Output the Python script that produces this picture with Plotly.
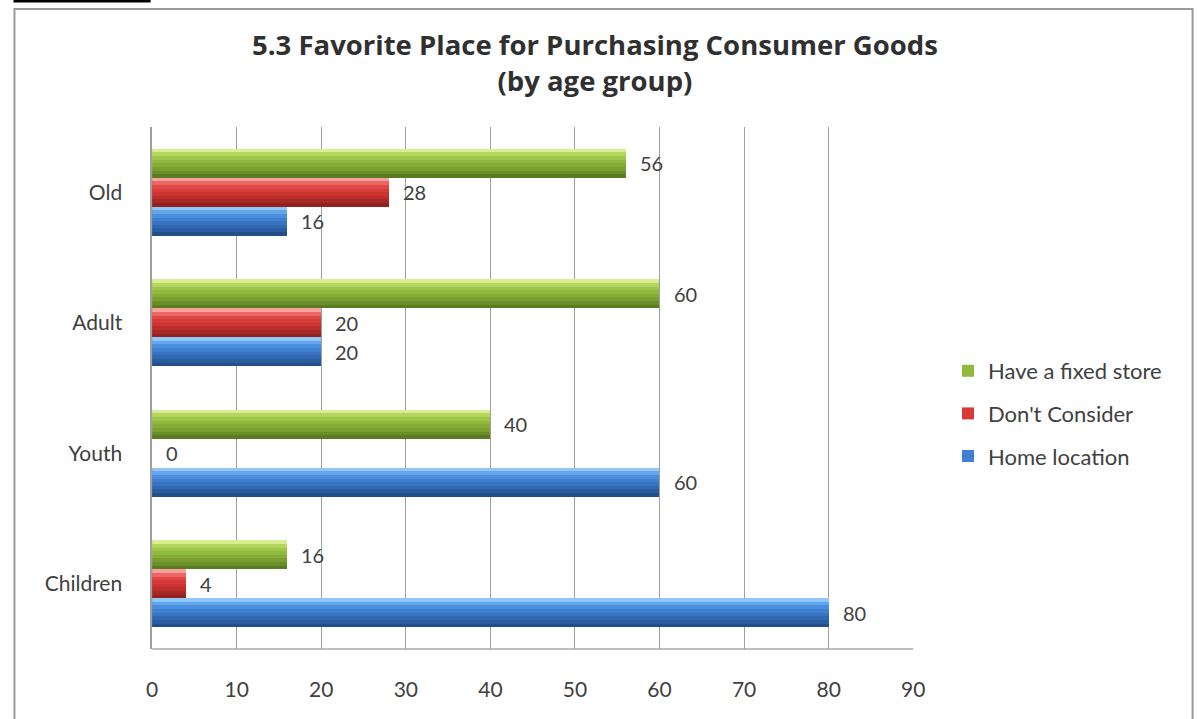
import plotly.graph_objects as go

# Survey results: favourite place for purchasing consumer goods, by age group (%)
age_groups = ["Children", "Youth", "Adult", "Old"]
home_location = [80, 60, 20, 16]
dont_consider = [4, 0, 20, 28]
fixed_store = [16, 40, 60, 56]

x_ticks = [0, 10, 20, 30, 40, 50, 60, 70, 80, 90]

W, H = 1198, 719
FONT = "Lato, 'Open Sans', sans-serif"
TITLE_FONT = "'Open Sans', Lato, sans-serif"
TXT = "#404040"


def px(p):
    """Horizontal pixel position -> paper fraction."""
    return (p - 2.5) / 0.9907 / W


def py(p):
    """Vertical pixel position (from top) -> paper fraction."""
    return 1 - p / H


# name, values, shades from top edge to bottom edge, offset of the bar in its group
series = [
    ("Have a fixed store", fixed_store,
     ["#D8EE90", "#B4D65E", "#9EC64A", "#90BA3E", "#84AD36", "#789F2F", "#6A8F28", "#5A7C20"],
     0.111),
    ("Don't Consider", dont_consider,
     ["#F8A09E", "#EC6664", "#E04846", "#D63B39", "#CA3432", "#BB2E2C", "#A82826", "#922220"],
     -0.111),
    ("Home location", home_location,
     ["#8FC8F8", "#62A6EC", "#4A8EDD", "#3F80D0", "#3874C2", "#3168B2", "#2A5CA0", "#234E8A"],
     -0.333),
]
BW = 0.222

fig = go.Figure()
ypos = list(range(len(age_groups)))

for name, vals, shades, off in series:
    # full bar (carries the legend entry)
    fig.add_trace(go.Bar(
        y=ypos, x=vals, orientation="h", name=name,
        marker=dict(color=shades[3], line=dict(width=0)),
        width=BW, offset=off, legendgroup=name, showlegend=True,
    ))
    # horizontal bands shading the bar like a cylinder
    n = len(shades)
    for k, c in enumerate(shades):
        fig.add_trace(go.Bar(
            y=ypos, x=vals, orientation="h", name=name,
            marker=dict(color=c, line=dict(width=0)),
            width=BW / n, offset=off + BW * (n - 1 - k) / n,
            legendgroup=name, showlegend=False, hoverinfo="skip",
        ))

# value labels to the right of each bar
annotations = []
for name, vals, _, off in series:
    for y, v in zip(ypos, vals):
        annotations.append(dict(
            x=v, y=y + off + BW / 2, xref="x", yref="y",
            text=str(v), showarrow=False, xanchor="left", yanchor="middle",
            xshift=12, font=dict(family=FONT, size=20, color=TXT),
        ))

annotations.append(dict(
    x=px(595), y=py(63), xref="paper", yref="paper",
    text="<b>5.3 Favorite Place for Purchasing Consumer Goods<br>(by age group)</b>",
    showarrow=False, xanchor="center", yanchor="middle",
    font=dict(family=TITLE_FONT, size=27.5, color="#303030"),
))

shapes = [
    # chart frame
    dict(type="rect", xref="paper", yref="paper",
         x0=px(11), x1=px(1196), y0=-0.05, y1=py(9),
         line=dict(color="#9A9A9A", width=2), layer="below"),
    # rule at the top-left corner
    dict(type="line", xref="paper", yref="paper",
         x0=px(10), x1=px(148), y0=py(1), y1=py(1),
         line=dict(color="#000000", width=3)),
    # floor line under the plot
    dict(type="line", xref="paper", yref="paper",
         x0=px(149.5), x1=px(915), y0=py(649), y1=py(649),
         line=dict(color="#A8A8A8", width=1.5), layer="below"),
]

fig.update_layout(
    width=W, height=H,
    margin=dict(l=0, r=0, t=0, b=0),
    paper_bgcolor="white", plot_bgcolor="white",
    barmode="overlay",
    showlegend=True,
    legend=dict(
        x=px(950), y=py(350), xanchor="left", yanchor="top",
        traceorder="grouped", tracegroupgap=11,
        font=dict(family=FONT, size=22, color=TXT),
        itemwidth=30, bgcolor="rgba(0,0,0,0)",
    ),
    annotations=annotations,
    shapes=shapes,
    xaxis=dict(
        domain=[px(149.5), px(915)], range=[0, 90],
        tickvals=x_ticks, ticktext=[str(t) for t in x_ticks],
        showgrid=True, gridcolor="#A0A0A0", gridwidth=1,
        zeroline=False, showline=False,
        ticks="", ticklabelstandoff=26,
        tickfont=dict(family=FONT, size=21, color=TXT),
    ),
    yaxis=dict(
        domain=[py(649), py(127)], range=[-0.5, 3.5],
        tickvals=ypos, ticktext=age_groups,
        showgrid=False, zeroline=False,
        showline=True, linecolor="#A0A0A0", linewidth=1.5,
        ticks="", ticklabelstandoff=24,
        tickfont=dict(family=FONT, size=21, color=TXT),
    ),
    bargap=0,
)

fig.write_html("out.html")
